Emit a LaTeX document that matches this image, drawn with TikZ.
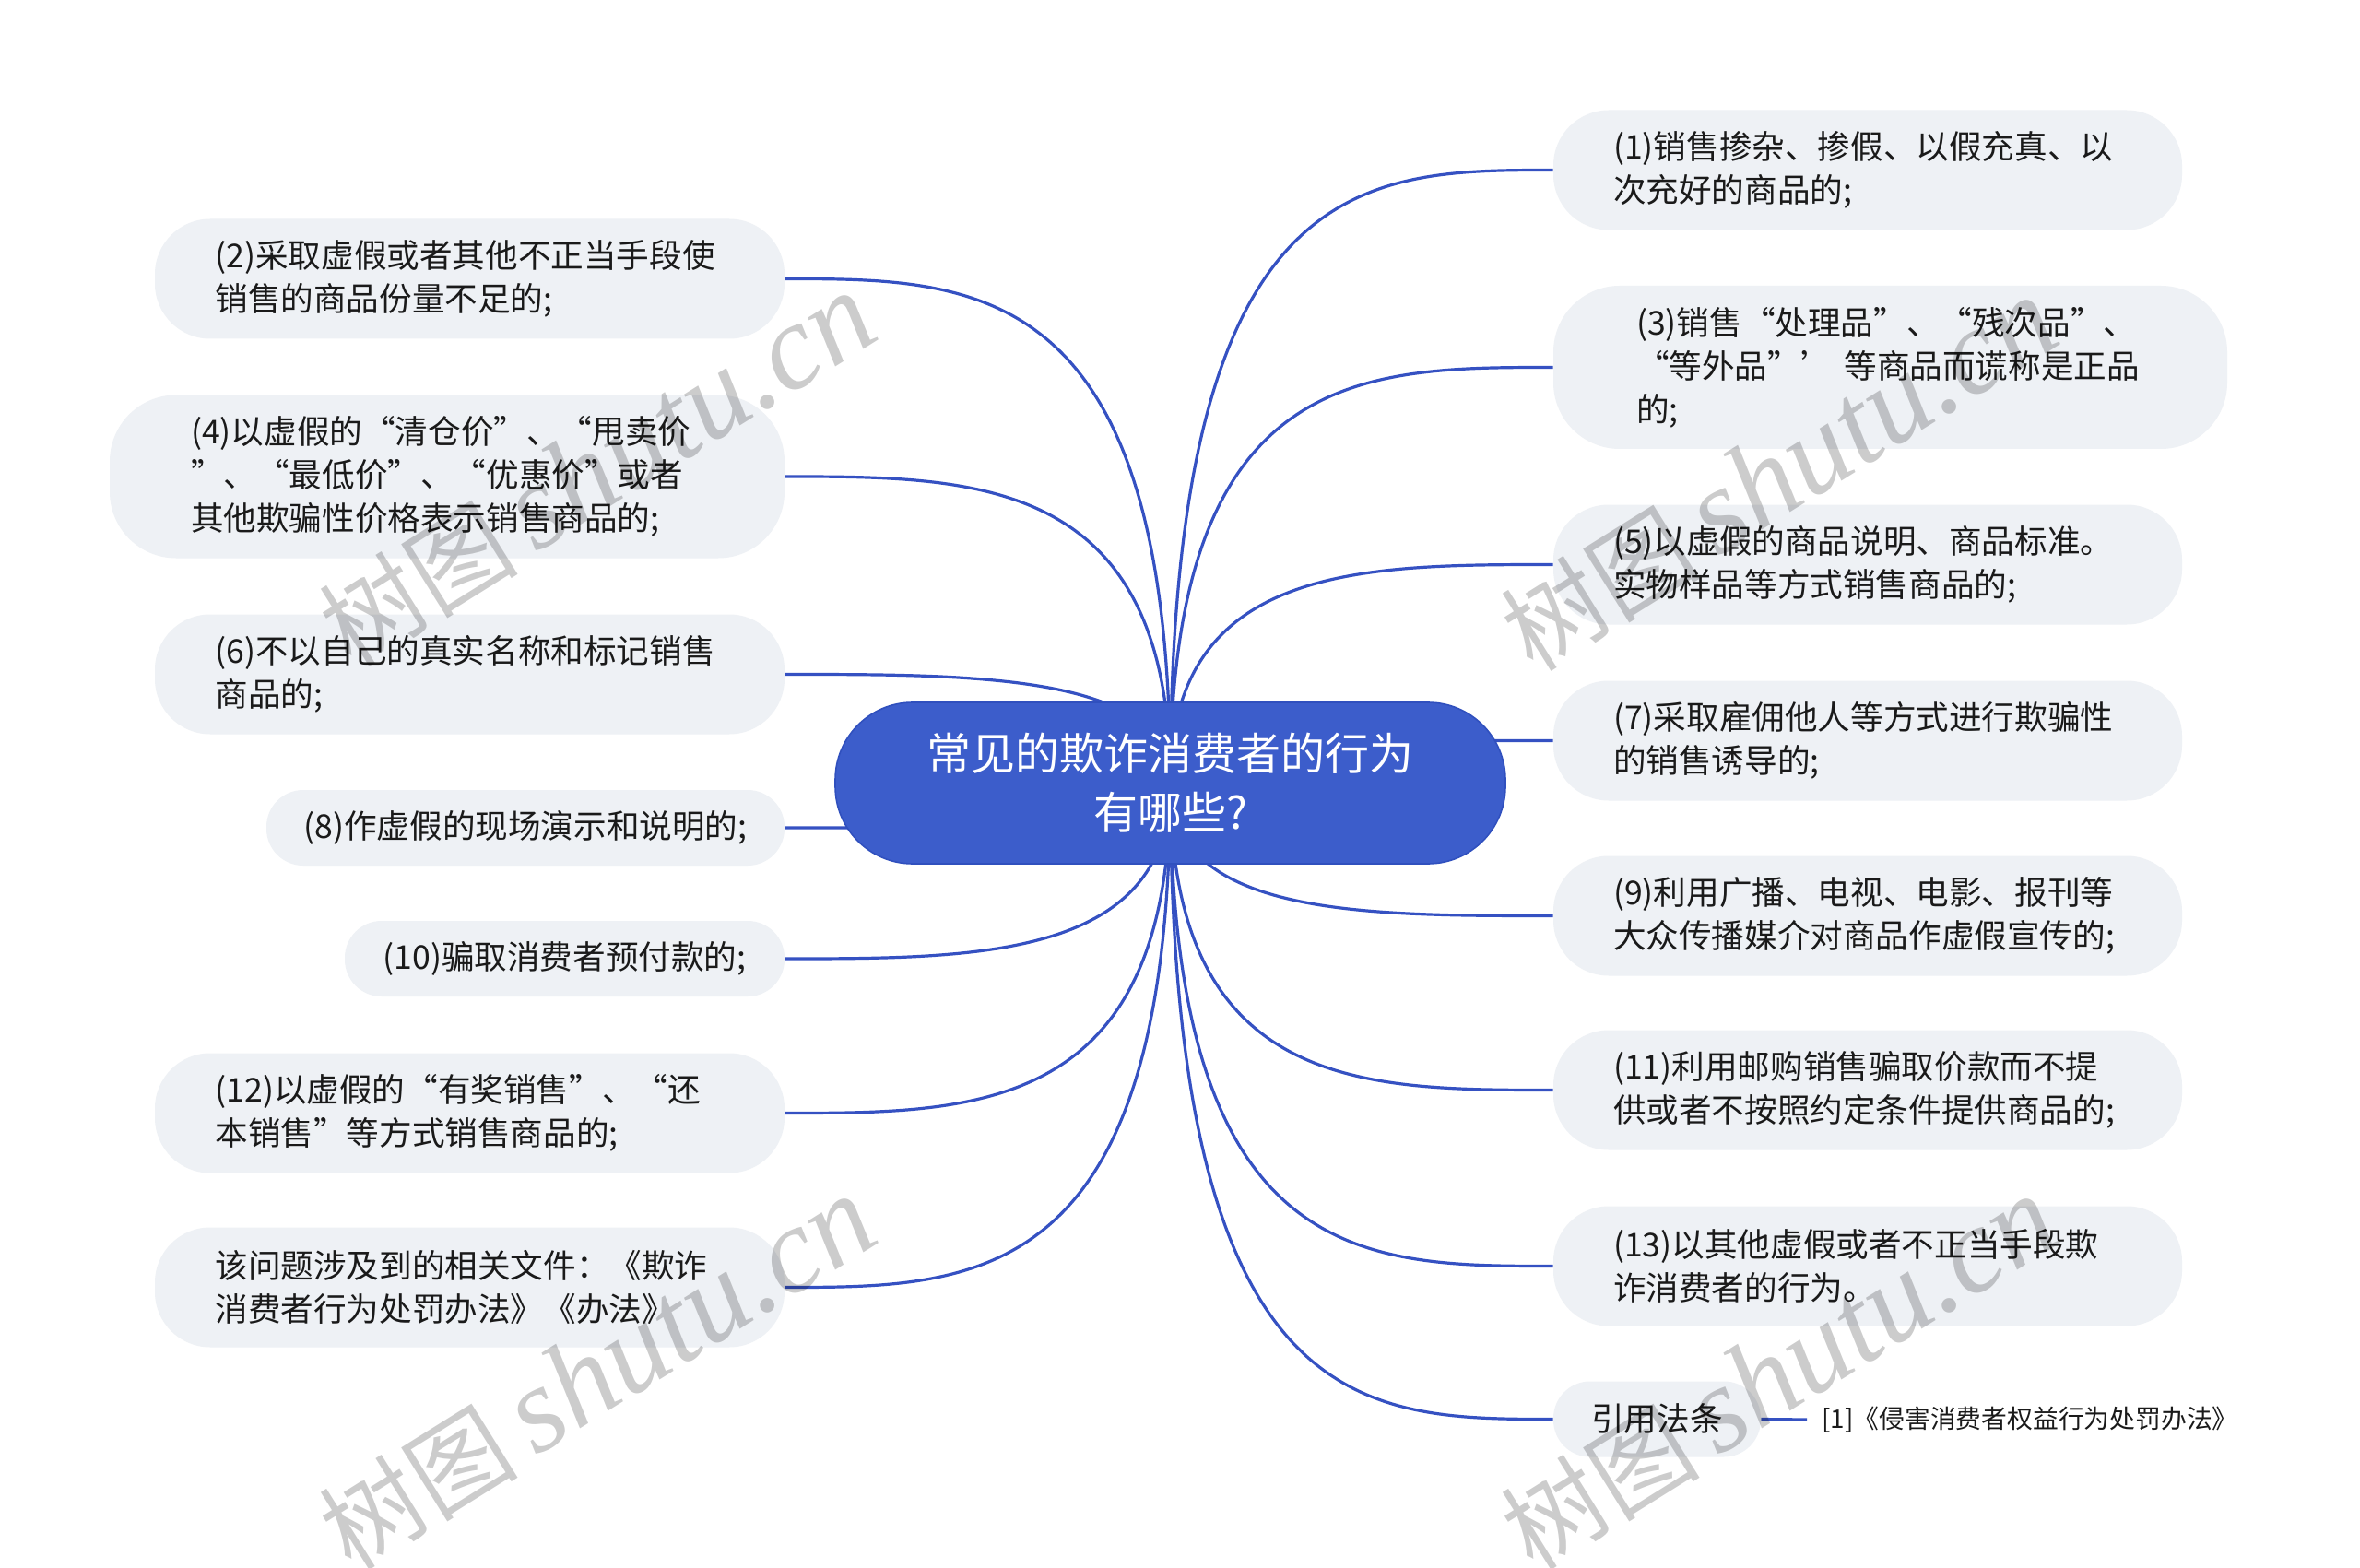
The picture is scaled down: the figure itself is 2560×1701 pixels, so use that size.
\documentclass[tikz,border=0pt]{standalone}
\usepackage{fontspec}
\setmainfont{Noto Sans CJK SC}
\newfontfamily\qf{Noto Sans CJK SC}[RawFeature=+fwid]
\newfontfamily\wmlat{Liberation Serif}
\usetikzlibrary{calc}
\definecolor{leafc}{HTML}{EEF1F5}
\definecolor{rootc}{HTML}{3C5DCB}
\definecolor{rootb}{HTML}{3050BE}
\definecolor{linec}{HTML}{3551C2}
\definecolor{txtc}{HTML}{1A1A1A}
\newcommand\myoq{{\qf “}}
\newcommand\mycq{{\qf ”}}
\pgfdeclarelayer{bg}
\pgfdeclarelayer{fg}
\pgfsetlayers{bg,main,fg}
\tikzset{
  leaf/.style={fill=leafc, draw=none, inner sep=0pt, text=txtc,
    font=\fontsize{17.8pt}{23.5pt}\selectfont, align=left, text width=276pt,
    minimum height=65pt, rounded corners=30pt},
  leafthree/.style={leaf, minimum height=88.5pt, rounded corners=36pt},
  leafone/.style={fill=leafc, draw=none, inner sep=0pt, text=txtc,
    font=\fontsize{17.8pt}{23.5pt}\selectfont, align=center,
    minimum height=41pt, rounded corners=20pt},
  rootnode/.style={fill=rootc, draw=rootb, line width=0.8pt, rounded corners=42pt,
    minimum width=363.5pt, minimum height=87.5pt, text=white, align=center,
    font=\fontsize{24pt}{32pt}\selectfont},
  conn/.style={draw=linec, line width=1.6pt},
  wm/.style={text=black, text opacity=0.2, rotate=32, inner sep=0pt},
}
\begin{document}
\begin{tikzpicture}[x=0.5pt,y=-0.5pt]
\useasboundingbox (0,0) rectangle (2560,1701);

% root
\node[rootnode] (root) at (1269.5,849.5) {常见的欺诈消费者的行为\\有哪些?};

% right side
\node[leaf, minimum width=341pt] (r1) at (2026,184.5)
  {(1)销售掺杂、掺假、以假充真、以\\次充好的商品的;};
\node[leafthree, minimum width=365.5pt, text width=275.5pt] (r3) at (2050.5,398.5)
  {(3)销售\myoq 处理品\mycq 、\myoq 残次品\mycq 、\\\myoq 等外品\mycq{\qf ’}~等商品而谎称是正品\\的;};
\node[leaf, minimum width=341pt] (r5) at (2026,612.5)
  {(5)以虚假的商品说明、商品标准。\\实物样品等方式销售商品的;};
\node[leaf, minimum width=341pt] (r7) at (2026,803.5)
  {(7)采取雇佣他人等方式进行欺骗性\\的销售诱导的;};
\node[leaf, minimum width=341pt] (r9) at (2026,993.5)
  {(9)利用广播、电视、电影、报刊等\\大众传播媒介对商品作虚假宣传的;};
\node[leaf, minimum width=341pt] (r11) at (2026,1182.5)
  {(11)利用邮购销售骗取价款而不提\\供或者不按照约定条件提供商品的;};
\node[leaf, minimum width=341pt] (r13) at (2026,1373.5)
  {(13)以其他虚假或者不正当手段欺\\诈消费者的行为。};
\node[leafone, minimum width=112.5pt] (ref) at (1797.5,1539.5) {引用法条};
\node[anchor=west, inner xsep=8pt, inner ysep=0pt, text=txtc,
  font=\fontsize{13.9pt}{16pt}\selectfont] (reftxt) at (1960,1540)
  {[1]《侵害消费者权益行为处罚办法》};

% left side
\node[leaf, minimum width=341.5pt] (l2) at (509.5,302.5)
  {(2)采取虚假或者其他不正当手段使\\销售的商品份量不足的;};
\node[leafthree, minimum width=366pt, text width=278pt] (l4) at (485,517)
  {(4)以虚假的\myoq 清仓价\mycq 、\myoq 甩卖价\\\mycq 、\myoq 最低价\mycq 、\myoq 优惠价\mycq 或者\\其他欺骗性价格表示销售商品的;};
\node[leaf, minimum width=341.5pt] (l6) at (509.5,731.5)
  {(6)不以自己的真实名称和标记销售\\商品的;};
\node[leafone, minimum width=281pt] (l8) at (570,898)
  {(8)作虚假的现场演示和说明的;};
\node[leafone, minimum width=238.5pt] (l10) at (612.5,1040)
  {(10)骗取消费者预付款的;};
\node[leaf, minimum width=341.5pt] (l12) at (509.5,1207.5)
  {(12)以虚假的\myoq 有奖销售\mycq 、\myoq 还\\本销售\mycq 等方式销售商品的;};
\node[leaf, minimum width=341.5pt] (l14) at (509.5,1396.5)
  {该问题涉及到的相关文件：《欺诈\\消费者行为处罚办法》《办法》};

% connectors
\begin{pgfonlayer}{bg}
\fill[white] (0,0) rectangle (2560,1701);
\foreach \n in {r1,r3,r5,r7,r9,r11,r13,ref}{
  \draw[conn] (root.center) .. controls (root.center |- \n.west)
    and ($(root.center |- \n.west)!0.5!(\n.west)$) .. (\n.west);
}
\foreach \n in {l2,l4,l6,l8,l10,l12,l14}{
  \draw[conn] (root.center) .. controls (root.center |- \n.east)
    and ($(root.center |- \n.east)!0.5!(\n.east)$) .. (\n.east);
}
\draw[conn] (ref.east) -- (reftxt.west);
\end{pgfonlayer}

% watermarks
\begin{pgfonlayer}{fg}
\foreach \p/\nm in {{(648,510)}/wma,{(1930,515)}/wmb,{(648,1490)}/wmc,{(1930,1490)}/wmd}{
  \node[wm] (\nm) at \p {{\fontsize{54pt}{54pt}\selectfont 树图}\hspace{10pt}{\wmlat\itshape\fontsize{66pt}{66pt}\selectfont shutu.cn}};
}
\end{pgfonlayer}
\end{tikzpicture}
\end{document}
